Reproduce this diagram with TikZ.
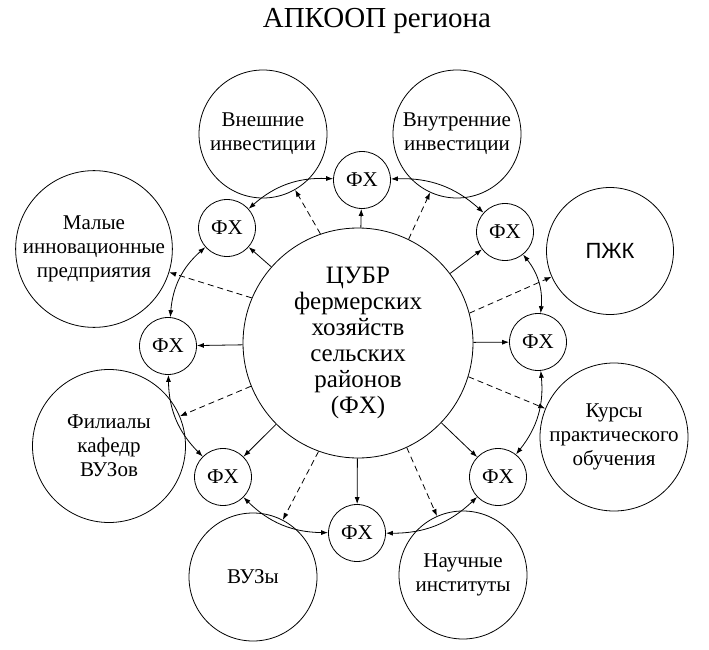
\documentclass[tikz,border=0pt]{standalone}
\usepackage{fontspec}
\setmainfont{Liberation Serif}
\newfontfamily\arialfont{Liberation Sans}
\usetikzlibrary{arrows.meta}
\begin{document}
\begin{tikzpicture}[x=1pt,y=-1pt,
  every node/.style={circle,draw,line width=0.8pt,inner sep=0pt,align=center,
    font=\fontsize{21}{24}\selectfont},
  fx/.style={minimum size=57pt,font=\fontsize{21}{24}\selectfont},
  outer/.style={minimum size=#1},
  conn/.style={line width=0.8pt,-{Latex[length=7pt,width=5pt]}},
  ring/.style={line width=0.8pt,{Latex[length=7pt,width=5pt]}-{Latex[length=7pt,width=5pt]}},
  dsh/.style={conn,dash pattern=on 6pt off 4pt}]
\useasboundingbox (0,0) rectangle (709,650);
\node[draw=none,rectangle,font=\fontsize{29}{32}\selectfont] (title) at (377,21) {АПКООП региона};
\node[minimum size=230pt,font=\fontsize{25}{26}\selectfont] (c) at (358,343)
  {ЦУБР\\фермерских\\хозяйств\\сельских\\районов\\(ФХ)};
% FX ring
\node[fx] (f1) at (362,180) {ФХ};
\node[fx] (f2) at (505,232) {ФХ};
\node[fx] (f3) at (538,342) {ФХ};
\node[fx] (f4) at (498,477) {ФХ};
\node[fx] (f5) at (357,533) {ФХ};
\node[fx] (f6) at (223,477) {ФХ};
\node[fx] (f7) at (168,346) {ФХ};
\node[fx] (f8) at (227,228) {ФХ};
% outer circles
\node[outer=128pt] (o1) at (263,134) {Внешние\\инвестиции};
\node[outer=128pt] (o2) at (457,134) {Внутренние\\инвестиции};
\node[outer=127pt,font=\arialfont\fontsize{22}{24}\selectfont] (o3) at (610,251) {ПЖК};
\node[outer=148pt] (o4) at (614,437) {Курсы\\практического\\обучения};
\node[outer=128pt] (o5) at (463,575) {Научные\\институты};
\node[outer=128pt] (o6) at (253,577) {ВУЗы};
\node[outer=153pt] (o7) at (109,446) {Филиалы\\кафедр\\ВУЗов};
\node[outer=154pt] (o8) at (94,249) {Малые\\инновационные\\предприятия};
% radial solid arrows
\foreach \i in {1,...,8} {\draw[conn] (c) -- (f\i);}
% ring arcs
\draw[ring] (f1) to[bend left=22] (f2);
\draw[ring] (f2) to[bend left=22] (f3);
\draw[ring] (f3) to[bend left=22] (f4);
\draw[ring] (f4) to[bend left=22] (f5);
\draw[ring] (f5) to[bend left=22] (f6);
\draw[ring] (f6) to[bend left=22] (f7);
\draw[ring] (f7) to[bend left=22] (f8);
\draw[ring] (f8) to[bend left=22] (f1);
% dashed arrows
\draw[dsh] (c.109) -- (o1);
\draw[dsh] (c.64.5) -- (o2);
\draw[dsh] (c.15) -- (o3);
\draw[dsh] (c.343) -- (o4);
\draw[dsh] (c.295) -- (o5);
\draw[dsh] (c.250) -- (o6);
\draw[dsh] (c.202) -- (o7);
\draw[dsh] (c.157) -- (o8);
\end{tikzpicture}
\end{document}
